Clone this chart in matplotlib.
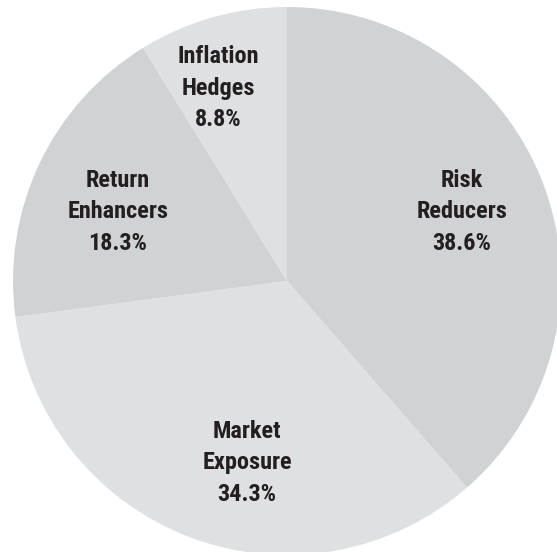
import matplotlib
matplotlib.use("Agg")
import matplotlib.pyplot as plt
from matplotlib import font_manager

categories = ["Risk\nReducers", "Market\nExposure", "Return\nEnhancers", "Inflation\nHedges"]
values = [38.6, 34.3, 18.3, 8.8]
colors = ["#d1d2d4", "#dfe0e2", "#d1d2d4", "#dfe0e2"]

# label positions in pixels (layout)
label_pos = [(462, 212), (247, 463), (118, 212), (218, 88)]

W, H = 557, 552
fig = plt.figure(figsize=(W / 100, H / 100), dpi=100)
ax = fig.add_axes([0, 0, 1, 1])

cx, cy, R = 287, H - 281, 274
ax.pie(values, colors=colors, startangle=90, counterclock=False,
       center=(cx, cy), radius=R, frame=True,
       wedgeprops=dict(linewidth=0))
ax.set_xlim(0, W)
ax.set_ylim(0, H)
ax.set_aspect("equal")
ax.axis("off")

names = {f.name for f in font_manager.fontManager.ttflist}
fam = ["Liberation Sans Narrow", "DejaVu Sans"] if "Liberation Sans Narrow" in names else ["Roboto Condensed", "DejaVu Sans"]

for cat, v, (px, py) in zip(categories, values, label_pos):
    ax.text(px, H - py, f"{cat}\n{v:.1f}%", ha="center", va="center",
            fontsize=17.5, fontweight="bold", color="#231f20",
            family=fam, linespacing=1.47)

fig.savefig("out.png", dpi=100)
